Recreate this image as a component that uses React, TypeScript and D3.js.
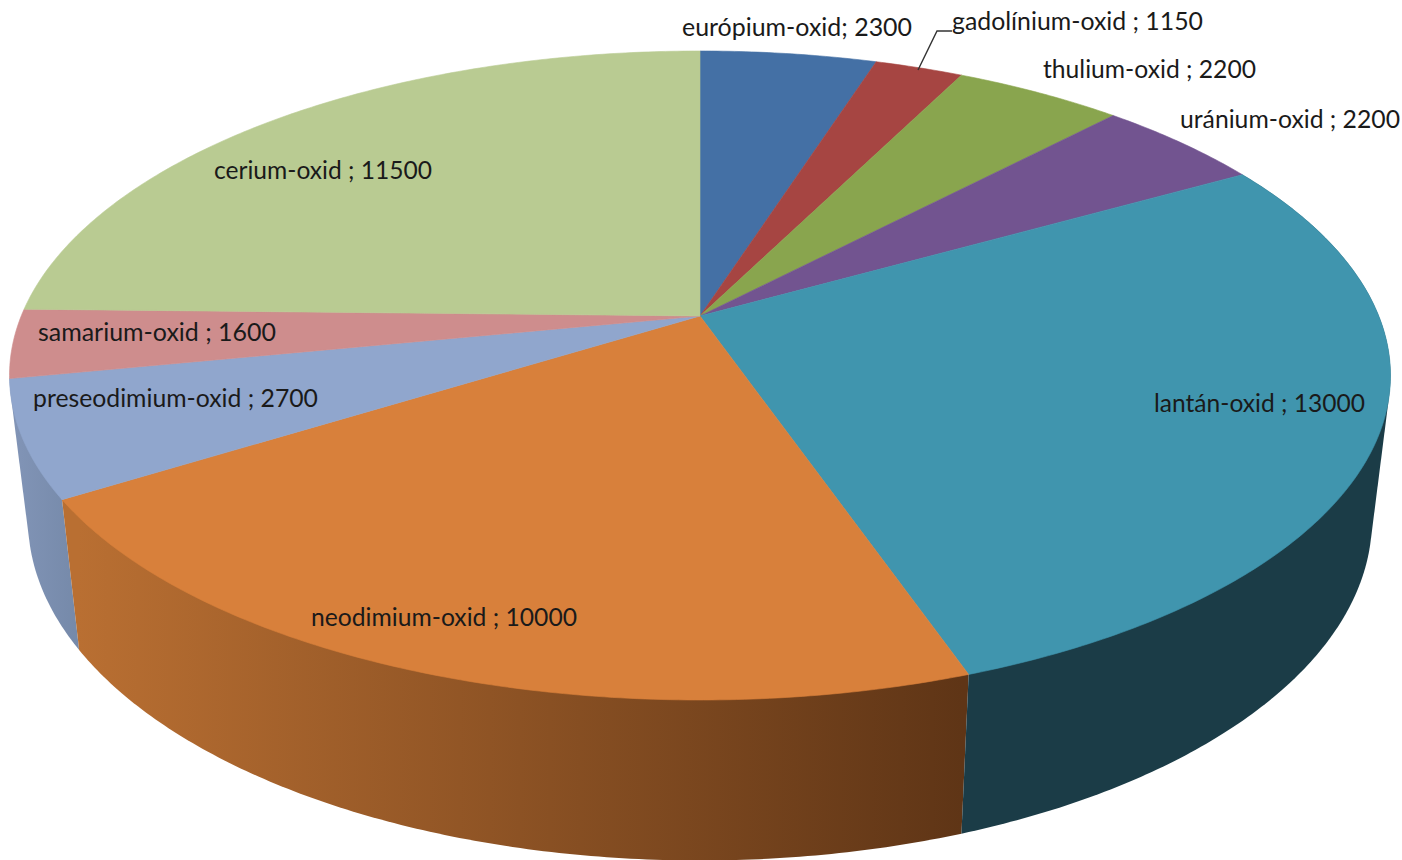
import React from "react";
import * as d3 from "d3";

const names = ["európium-oxid", "gadolínium-oxid ", "thulium-oxid ", "uránium-oxid ", "lantán-oxid ", "neodimium-oxid ", "preseodimium-oxid ", "samarium-oxid ", "cerium-oxid "];
const values = [2300, 1150, 2200, 2200, 13000, 10000, 2700, 1600, 11500];
const topColors = ["#4470A5", "#A64542", "#89A54E", "#725490", "#4095AE", "#D8803B", "#90A6CD", "#CE8D8D", "#B9CB92"];
const wallFrom = ["#3A5F8C", "#8D3A38", "#748C42", "#61477A", "#1B3C47", "#B96F32", "#8194B6", "#AF7878", "#9DAD7C"];
const wallTo = ["#3A5F8C", "#8D3A38", "#748C42", "#61477A", "#1B3C47", "#5F3516", "#7589A9", "#AF7878", "#9DAD7C"];
// label anchors: left x, baseline y, rendered width
const labelX = [682, 952, 1043, 1180, 1154, 311, 33, 38, 214];
const labelY = [36, 30, 78, 128, 412, 626, 407, 341, 179];
const labelW = [230, 251, 213, 220, 211, 266, 285, 238, 218];
const leader: [number, number][] = [[918, 70], [937, 31], [952, 31]];

const W = 1402, H = 860;
const topEllipse = { cx: 700, cy: 375.5, rx: 690.5, ry: 324.5 };
const botEllipse = { cx: 700, cy: 519.5, rx: 672, ry: 341 };
const apexY = 316;
const a = (apexY - topEllipse.cy) / topEllipse.ry;

// Perspective: maps a circle angle (clockwise from top) to the unit disc of the ellipse
function disc(t: number): [number, number] {
  const u = Math.sin(t), v = -Math.cos(t);
  const d = 1 + a * v;
  return [(u * Math.sqrt(1 - a * a)) / d, (v + a) / d];
}
const place = (e: typeof topEllipse, p: [number, number]): [number, number] => [e.cx + p[0] * e.rx, e.cy + p[1] * e.ry];

const arcs = d3.pie<number>().sort(null).startAngle(0).endAngle(2 * Math.PI)(values);
const line = d3.line();

function samples(s: number, e: number) {
  const n = Math.max(8, Math.ceil((e - s) / 0.01));
  return d3.range(n + 1).map((i) => disc(s + ((e - s) * i) / n));
}

const slices = arcs.map((d, i) => {
  const pts = samples(d.startAngle, d.endAngle);
  const top = pts.map((p) => place(topEllipse, p));
  const bot = pts.map((p) => place(botEllipse, p));
  const front = d3.max(pts, (p) => p[1])! > 0.1;
  const hull = d3.polygonHull([...top, ...bot])!;
  return { i, topPath: line([[topEllipse.cx, apexY], ...top])! + "Z", wallPath: line(hull)! + "Z", front };
});
// Nearest wall last: the order of increasing front extent
const wallOrder = slices.filter((s) => s.front).sort((p, q) => values[p.i] - values[q.i]);

export default function App() {
  return (
    <svg width={W} height={H} viewBox={`0 0 ${W} ${H}`} style={{ position: "absolute", left: 0, top: 0, display: "block" }}>
      <defs>
        {slices.map((s) => (
          <linearGradient key={s.i} id={`wall${s.i}`} gradientUnits="userSpaceOnUse" x1={s.i === 5 ? 78 : 15} x2={s.i === 5 ? 962 : 80} y1={0} y2={0}>
            <stop offset="0" stopColor={wallFrom[s.i]} />
            <stop offset="1" stopColor={wallTo[s.i]} />
          </linearGradient>
        ))}
      </defs>
      <rect width={W} height={H} fill="#fff" />
      {wallOrder.map((s) => (
        <path key={s.i} d={s.wallPath} fill={`url(#wall${s.i})`} />
      ))}
      {slices.map((s) => (
        <path key={s.i} d={s.topPath} fill={topColors[s.i]} stroke={topColors[s.i]} strokeWidth={0.6} />
      ))}
      <path d={line(leader)!} fill="none" stroke="#333" strokeWidth={1.4} />
      {names.map((n, i) => (
        <text key={n} x={labelX[i]} y={labelY[i]} textLength={labelW[i]} lengthAdjust="spacingAndGlyphs"
          fontFamily="Lato, 'Open Sans', sans-serif" fontSize={25} fill="#1a1a1a" xmlSpace="preserve">
          {`${n}; ${values[i]}`}
        </text>
      ))}
    </svg>
  );
}
